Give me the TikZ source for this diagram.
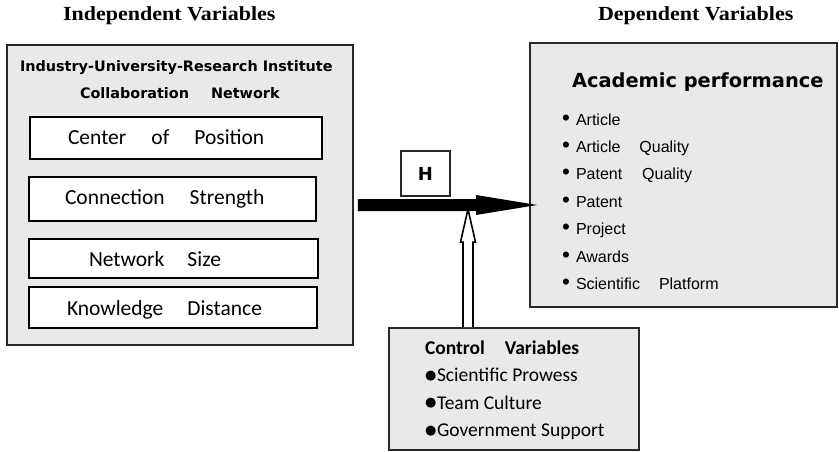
\documentclass[tikz,border=0pt]{standalone}
\usepackage{fontspec}
\usepackage{graphicx}
\usetikzlibrary{calc}
\setmainfont{Liberation Serif}
\newfontfamily\calfont{Carlito}
\newfontfamily\dvfont{DejaVu Sans}
\newfontfamily\arfont{Liberation Sans}
\definecolor{boxgray}{RGB}{233,233,233}
\definecolor{edgegray}{RGB}{40,40,40}
\newcommand{\cbul}{\makebox[12pt][l]{\raisebox{2.5pt}{\dvfont\fontsize{13}{13}\selectfont ●}}}
\newcommand{\rbul}{\makebox[14pt][l]{\scalebox{1.4}{•}}}
\tikzset{
  outerbox/.style={draw=edgegray, line width=1.8pt, fill=boxgray, rectangle, inner sep=0pt},
  innerbox/.style={draw=black, line width=2.2pt, fill=white, rectangle, inner sep=0pt},
  txt/.style={inner sep=0pt, outer sep=0pt, anchor=base west},
  titlefont/.style={font=\bfseries\fontsize{20}{22}\selectfont},
  innerfont/.style={font=\calfont\fontsize{21.5}{24}\selectfont},
  headfont/.style={font=\dvfont\bfseries\fontsize{14.4}{16}\selectfont},
  listfont/.style={font=\arfont\fontsize{16}{18}\selectfont},
  ctrlfont/.style={font=\calfont\fontsize{19.5}{22}\selectfont},
}
\begin{document}
\begin{tikzpicture}[x=1pt,y=-1pt]
\useasboundingbox (0,0) rectangle (839,452);
% boxes
\node[outerbox, minimum width=346pt, minimum height=300pt] (left) at (180,195) {};
\node[outerbox, minimum width=307pt, minimum height=264pt] (right) at (683.5,175) {};
\node[outerbox, minimum width=250pt, minimum height=122pt] (ctrl) at (514,389) {};
\node[innerbox, minimum width=292pt, minimum height=42pt] (b1) at (176,138) {};
\node[innerbox, minimum width=287pt, minimum height=44pt] (b2) at (172.5,199) {};
\node[innerbox, minimum width=289pt, minimum height=39pt] (b3) at (173.5,258.5) {};
\node[innerbox, minimum width=288pt, minimum height=41pt] (b4) at (173,307.5) {};
\node[draw=edgegray, line width=1.8pt, fill=white, minimum width=49pt, minimum height=45pt, inner sep=0pt,
      font=\dvfont\bfseries\fontsize{18}{20}\selectfont] (hbox) at (425.5,173.5) {H};
% arrow points
\path (left.east) ++(4,10) coordinate (a0);
\path (right.west) ++(8,30) coordinate (a1);
\path (ctrl.north) ++(-46,0) coordinate (c0);
\path (c0) ++(0,-118) coordinate (c1);
% hollow control arrow
\draw[line width=1.6pt, fill=white, line join=miter]
  ($(c0)+(-5,0)$) -- ($(c1)+(-5,33)$) -- ($(c1)+(-7.5,33)$) -- (c1)
  -- ($(c1)+(7.5,33)$) -- ($(c1)+(5,33)$) -- ($(c0)+(5,0)$);
% thick main arrow
\fill[black] ($(a0)+(0,-6)$) -- ($(a1)+(-61,-6)$) -- ($(a1)+(-61,-10)$) -- (a1)
  -- ($(a1)+(-61,10)$) -- ($(a1)+(-61,6)$) -- ($(a0)+(0,6)$) -- cycle;
% titles
\node[txt, titlefont] (tind) at (63,20.7) {\scalebox{1.1}[1]{Independent Variables}};
\node[txt, titlefont] (tdep) at (598,20.7) {\scalebox{1.1}[1]{Dependent Variables}};
% left box text
\node[txt, headfont] (h1) at (20,71.7) {Industry-University-Research Institute};
\node[txt, headfont] (h2) at (80,99) {Collaboration\hspace{22pt}Network};
\node[txt, innerfont] (t1) at (68,144) {Center\hspace{25pt}of\hspace{25pt}Position};
\node[txt, innerfont] (t2) at (65,204) {Connection\hspace{25pt}Strength};
\node[txt, innerfont] (t3) at (89,266.7) {Network\hspace{23pt}Size};
\node[txt, innerfont] (t4) at (67,315) {Knowledge\hspace{24pt}Distance};
% right box text
\node[txt, font=\dvfont\bfseries\fontsize{19.4}{22}\selectfont] (acad) at (572,87.3) {Academic performance};
\node[txt, listfont] (r1) at (562,125) {\rbul Article};
\node[txt, listfont] (r2) at (562,152.4) {\rbul Article\hspace{19pt}Quality};
\node[txt, listfont] (r3) at (562,179.8) {\rbul Patent\hspace{20pt}Quality};
\node[txt, listfont] (r4) at (562,207.2) {\rbul Patent};
\node[txt, listfont] (r5) at (562,234.6) {\rbul Project};
\node[txt, listfont] (r6) at (562,262) {\rbul Awards};
\node[txt, listfont] (r7) at (562,289.4) {\rbul Scientific\hspace{19pt}Platform};
% control box text
\node[txt, ctrlfont] (c0t) at (425,354.3) {\bfseries Control\hspace{20pt}Variables};
\node[txt, ctrlfont] (cs1) at (425,381.7) {\cbul Scientific Prowess};
\node[txt, ctrlfont] (cs2) at (425,409.2) {\cbul Team Culture};
\node[txt, ctrlfont] (cs3) at (425,436.7) {\cbul Government Support};
\end{tikzpicture}
\end{document}
